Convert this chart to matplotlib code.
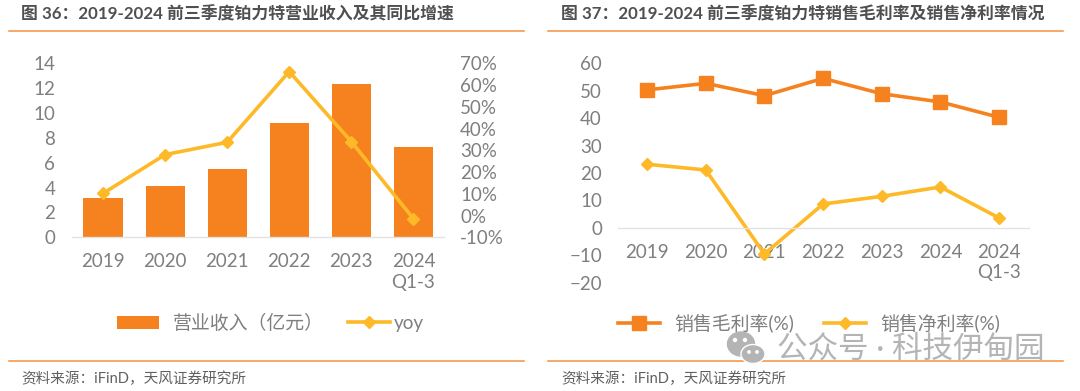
#!/usr/bin/env python3
import matplotlib
matplotlib.use("Agg")
import matplotlib.pyplot as plt
from matplotlib.patches import Ellipse

plt.rcParams["font.family"] = ["Lato", "Noto Sans CJK SC", "DejaVu Sans"]

# ============================================================
# Data
# ============================================================
YEARS = ["2019", "2020", "2021", "2022", "2023", "2024", "2024\nQ1-3"]

revenue = [3.19, 4.13, 5.5, 9.17, 12.31, 7.3]
yoy = [10.2, 28.0, 33.7, 66.2, 34.0, -1.4]
yoy_labels = ["2019", "2020", "2021", "2022", "2023", "2024\nQ1-3"]
rev_ticks = [0, 2, 4, 6, 8, 10, 12, 14]
yoy_ticks = [-10, 0, 10, 20, 30, 40, 50, 60, 70]

gross_margin = [50.3, 52.7, 48.2, 54.5, 48.9, 45.9, 40.3]
net_margin = [23.2, 21.1, -9.5, 8.7, 11.5, 14.9, 3.6]
margin_ticks = [-20, -10, 0, 10, 20, 30, 40, 50, 60]

TITLE_L = "图 36：2019-2024 前三季度铂力特营业收入及其同比增速"
TITLE_R = "图 37：2019-2024 前三季度铂力特销售毛利率及销售净利率情况"
SOURCE = "资料来源：iFinD，天风证券研究所"
WATERMARK = "公众号 · 科技伊甸园"

ORANGE = "#F6821F"
YELLOW = "#FDB927"
GRAY = "#7F7F7F"
RULE = "#F79A4F"
W, H = 1080, 391


def place(x0, x1, y0, y1):
    """Axes rectangle from pixel edges (y measured from the top)."""
    return [x0 / W, 1 - y1 / H, (x1 - x0) / W, (y1 - y0) / H]


def clean(ax):
    for s in ax.spines.values():
        s.set_visible(False)
    ax.tick_params(length=0, labelsize=13.5, labelcolor=GRAY)


fig = plt.figure(figsize=(W / 100, H / 100), dpi=100)

# ============================================================
# Left chart: revenue bars + yoy line
# ============================================================
ax1 = fig.add_axes(place(72, 444.4, 63.3, 237.3))
x1 = list(range(len(revenue)))
bars = ax1.bar(x1, revenue, width=0.63, color=ORANGE, label="营业收入（亿元）")
ax1.set_xlim(-0.5, 5.5)
ax1.set_ylim(0, 14)
ax1.set_yticks(rev_ticks)
ax1.set_xticks(x1)
ax1.set_xticklabels(yoy_labels, linespacing=1.25)
clean(ax1)
ax1.spines["bottom"].set_visible(True)
ax1.spines["bottom"].set_color("#E2E2E2")
ax1.spines["bottom"].set_linewidth(1.0)
ax1.tick_params(axis="y", pad=12)
ax1.tick_params(axis="x", pad=11.5)

ax1b = ax1.twinx()
line_yoy, = ax1b.plot(x1, yoy, color=YELLOW, lw=2.6, marker="D", ms=6.6, label="yoy")
ax1b.set_ylim(-10, 70)
ax1b.set_yticks(yoy_ticks)
ax1b.set_yticklabels([f"{t}%" for t in yoy_ticks])
clean(ax1b)
ax1b.tick_params(axis="y", pad=11.3)

# two legends: the line entry sits much closer to its label than the bar entry
fig.legend(handles=[bars], frameon=False, loc="center left",
           bbox_to_anchor=(117 / W, 1 - 323 / H), fontsize=13.6, labelcolor=GRAY,
           handlelength=2.2, handletextpad=0.75, borderpad=0, borderaxespad=0)
fig.legend(handles=[line_yoy], frameon=False, loc="center left",
           bbox_to_anchor=(348 / W, 1 - 323 / H), fontsize=13.6, labelcolor=GRAY,
           handlelength=2.2, handletextpad=0.2, borderpad=0, borderaxespad=0)

# ============================================================
# Right chart: margins
# ============================================================
ax2 = fig.add_axes(place(617.7, 1028.5, 63.3, 282.7))
x2 = list(range(len(gross_margin)))
ax2.plot(x2, gross_margin, color=ORANGE, lw=2.6, marker="s", ms=9.5, label="销售毛利率(%)")
ax2.plot(x2, net_margin, color=YELLOW, lw=2.6, marker="D", ms=6.6, label="销售净利率(%)")
ax2.set_xlim(-0.5, 6.5)
ax2.set_ylim(-20, 60)
ax2.set_yticks(margin_ticks)
ax2.set_xticks(x2)
ax2.set_xticklabels(YEARS, linespacing=1.25)
clean(ax2)
ax2.spines["bottom"].set_visible(True)
ax2.spines["bottom"].set_position(("data", 0))
ax2.spines["bottom"].set_color("#E2E2E2")
ax2.spines["bottom"].set_linewidth(1.0)
ax2.tick_params(axis="y", pad=11.3)
ax2.tick_params(axis="x", pad=11.5)

fig.legend(handles=ax2.get_lines(), ncol=2, frameon=False, loc="center",
           bbox_to_anchor=(809 / W, 1 - 323 / H), fontsize=13.6, labelcolor=GRAY,
           handlelength=2.2, handletextpad=0.76, columnspacing=1.6, borderpad=0, borderaxespad=0)

# ============================================================
# Titles, rules, source, watermark (page furniture, in pixels)
# ============================================================
page = fig.add_axes([0, 0, 1, 1], zorder=10)
page.set_xlim(0, W)
page.set_ylim(H, 0)
page.axis("off")

for x0, x1_, title, tx in [(9, 524, TITLE_L, 21.3), (548, 1063, TITLE_R, 561)]:
    page.plot([x0, x1_], [30.7, 30.7], color=RULE, lw=1.2)
    page.plot([x0, x1_], [361, 361], color=RULE, lw=1.2)
    page.text(tx, 14.5, title, fontsize=12.17, fontweight="bold", color="#505050", va="center")
    page.text(tx, 378.5, SOURCE, fontsize=10.5, color="#606060", va="center")

page.text(777, 348, WATERMARK, fontsize=22, color="#B4B4B4", va="center", zorder=3)
page.add_patch(Ellipse((741, 344), 27, 24, color="#B4B4B4", zorder=3))
page.add_patch(Ellipse((753, 354), 24, 19, fc="#B4B4B4", ec="white", lw=1, zorder=4))
for ex, ey, er in [(735, 340, 3), (745, 340, 3), (749, 352, 2.4), (757, 352, 2.4)]:
    page.add_patch(Ellipse((ex, ey), er, er, color="white", zorder=5))

fig.savefig("out.png", dpi=100)
